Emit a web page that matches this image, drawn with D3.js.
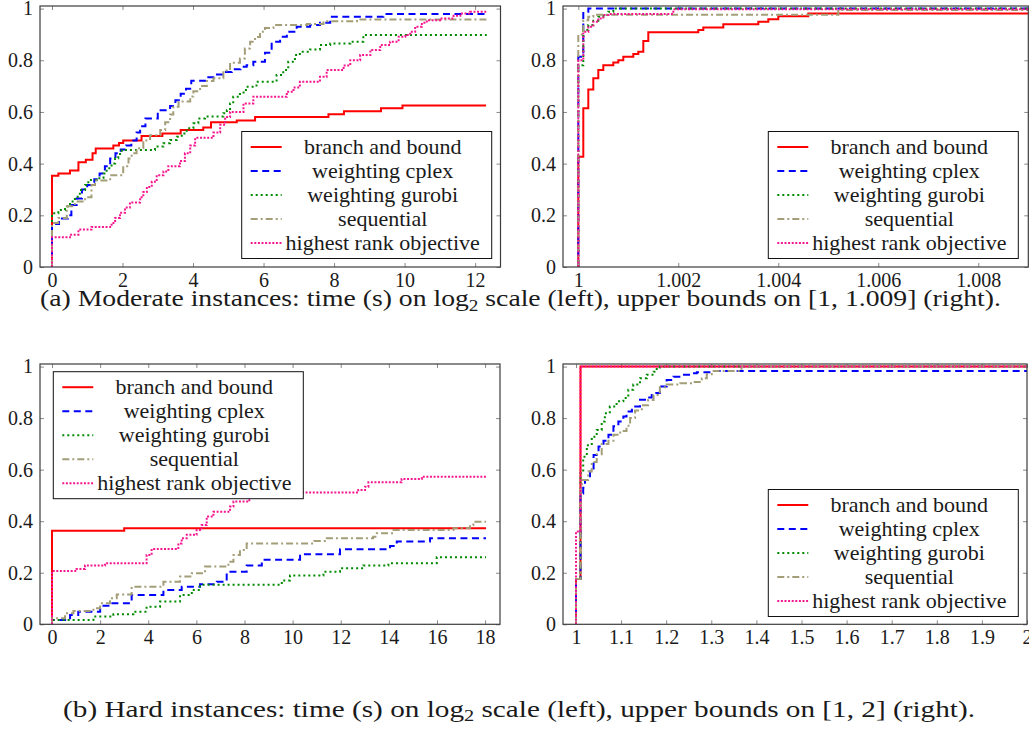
<!DOCTYPE html>
<html>
<head>
<meta charset="utf-8">
<script src="https://cdn.jsdelivr.net/npm/d3@7"></script>
<style>
body { margin: 0; background: #fff; }
.tick line { stroke: #8a8a8a; }
</style>
</head>
<body>
<svg id="fig" width="1029" height="752" font-family="Liberation Serif"></svg>
<script>
// series names, in legend order
const names = ['branch and bound', 'weighting cplex', 'weighting gurobi', 'sequential', 'highest rank objective'];

// (a) left: moderate instances, time (log2 s)
const aBranch = [[0,0],[0,0.353],[0.18,0.362],[0.51,0.373],[0.75,0.405],[0.96,0.415],[1.15,0.44],[1.24,0.459],[1.74,0.47],[1.9,0.48],[2.02,0.49],[2.54,0.507],[3.13,0.517],[3.65,0.53],[4.29,0.54],[4.51,0.56],[5.24,0.567],[5.76,0.58],[7.84,0.591],[8.28,0.603],[9.33,0.614],[9.94,0.625],[12.31,0.625]];
const aCplex = [[0,0],[0,0.166],[0.2,0.188],[0.45,0.2],[0.55,0.24],[0.7,0.265],[0.85,0.3],[1.0,0.317],[1.2,0.34],[1.35,0.362],[1.5,0.39],[1.65,0.42],[1.8,0.44],[1.95,0.455],[2.1,0.47],[2.25,0.49],[2.4,0.52],[2.5,0.545],[2.65,0.575],[3.0,0.607],[3.35,0.623],[3.5,0.645],[3.65,0.67],[3.8,0.69],[3.95,0.721],[4.4,0.734],[4.65,0.745],[4.9,0.755],[5.1,0.765],[5.35,0.775],[5.52,0.781],[5.71,0.794],[6.04,0.829],[6.23,0.872],[6.47,0.891],[6.66,0.91],[6.94,0.93],[7.32,0.936],[7.6,0.945],[7.89,0.968],[9.4,0.979],[12.33,0.979]];
const aGurobi = [[0,0],[0,0.208],[0.18,0.221],[0.37,0.234],[0.51,0.253],[0.65,0.272],[0.79,0.298],[0.94,0.317],[1.03,0.337],[1.27,0.343],[1.46,0.362],[1.55,0.382],[1.69,0.401],[1.79,0.421],[1.88,0.437],[1.98,0.453],[2.92,0.466],[3.16,0.479],[3.35,0.491],[3.54,0.504],[3.68,0.517],[3.82,0.537],[4.01,0.556],[4.15,0.575],[4.34,0.582],[4.86,0.595],[4.96,0.607],[5.05,0.633],[5.14,0.659],[5.33,0.675],[5.5,0.698],[5.8,0.717],[6.37,0.743],[6.56,0.762],[6.7,0.794],[6.89,0.82],[7.03,0.833],[7.32,0.842],[7.6,0.859],[7.89,0.865],[8.46,0.872],[8.83,0.898],[12.33,0.898]];
const aSeq = [[0,0],[0,0.17],[0.18,0.19],[0.42,0.235],[0.65,0.253],[0.94,0.27],[1.12,0.317],[1.22,0.335],[1.65,0.355],[2.02,0.39],[2.17,0.42],[2.26,0.44],[2.4,0.46],[2.59,0.49],[2.78,0.51],[3.07,0.53],[3.21,0.56],[3.35,0.59],[3.44,0.62],[3.59,0.64],[3.92,0.66],[4.01,0.68],[4.2,0.7],[4.39,0.72],[4.58,0.73],[4.86,0.76],[5.05,0.79],[5.33,0.807],[5.47,0.846],[5.62,0.872],[5.76,0.89],[5.9,0.91],[6.04,0.925],[6.28,0.936],[7.23,0.94],[7.7,0.951],[8.65,0.958],[12.33,0.958]];
const aHro = [[0,0],[0,0.115],[0.51,0.125],[0.75,0.145],[1.12,0.155],[1.69,0.17],[1.79,0.19],[1.93,0.21],[2.07,0.23],[2.21,0.25],[2.5,0.27],[2.59,0.29],[2.69,0.31],[2.83,0.33],[2.97,0.355],[3.16,0.37],[3.3,0.39],[3.63,0.41],[3.77,0.44],[3.92,0.47],[4.06,0.5],[4.58,0.52],[4.77,0.55],[4.91,0.58],[5.05,0.6],[5.43,0.633],[5.71,0.659],[6.66,0.678],[6.85,0.695],[7.03,0.717],[7.6,0.736],[7.79,0.762],[8.27,0.78],[8.46,0.8],[8.74,0.82],[9.03,0.84],[9.31,0.859],[9.59,0.872],[9.83,0.891],[10.02,0.898],[10.16,0.91],[10.3,0.93],[10.49,0.945],[10.63,0.955],[11.01,0.962],[11.39,0.972],[11.58,0.981],[11.86,0.988],[12.33,0.988]];

// (a) right: moderate instances, upper bounds
const bBranch = [[1,0],[1,0.427],[1.0001,0.614],[1.0002,0.687],[1.0003,0.73],[1.0004,0.762],[1.0005,0.781],[1.0007,0.791],[1.0008,0.8],[1.0009,0.814],[1.0011,0.824],[1.0012,0.833],[1.0013,0.875],[1.0014,0.908],[1.0024,0.917],[1.0025,0.927],[1.0029,0.939],[1.0036,0.949],[1.0038,0.959],[1.004,0.97],[1.0046,0.981],[1.009,0.981]];
const bCplex = [[1,0],[1,0.814],[1.0001,0.988],[1.0002,1],[1.009,1]];
const bGurobi = [[1,0],[1,0.781],[1.0001,0.917],[1.0002,0.936],[1.0003,0.953],[1.0004,0.968],[1.0005,0.975],[1.0006,0.988],[1.0007,1],[1.009,1]];
const bSeq = [[1,0],[1,0.9],[1.0001,0.955],[1.0002,0.968],[1.0003,0.976],[1.0052,0.995],[1.009,0.995]];
const bHro = [[1,0],[1,0.8],[1.0001,0.91],[1.0002,0.93],[1.0003,0.949],[1.0004,0.962],[1.0005,0.975],[1.0006,0.979],[1.0019,0.997],[1.009,0.997]];

// (b) left: hard instances, time (log2 s)
const cBranch = [[0,0],[0,0.363],[3,0.373],[18.04,0.373]];
const cCplex = [[0,0],[0,0.017],[0.75,0.036],[1.09,0.049],[2.0,0.072],[2.41,0.082],[3.31,0.114],[4.63,0.133],[5.39,0.146],[6.15,0.155],[6.85,0.165],[7.26,0.204],[8.09,0.228],[8.72,0.25],[10.31,0.272],[11.97,0.291],[14.05,0.304],[14.33,0.321],[15.71,0.334],[18.04,0.334]];
const cGurobi = [[0,0],[0,0.017],[1.72,0.03],[2.55,0.039],[3.38,0.049],[3.93,0.068],[4.49,0.088],[5.32,0.114],[5.81,0.133],[6.15,0.153],[9.55,0.17],[9.89,0.189],[11.28,0.204],[11.97,0.217],[12.94,0.228],[13.98,0.237],[15.99,0.26],[18.04,0.26]];
const cSeq = [[0,0],[0,0.023],[0.54,0.043],[0.89,0.052],[1.72,0.062],[2.0,0.082],[2.41,0.101],[2.69,0.116],[3.31,0.146],[4.63,0.165],[5.32,0.185],[5.81,0.198],[6.36,0.224],[7.33,0.243],[7.54,0.269],[7.81,0.288],[8.09,0.314],[10.9,0.323],[11.42,0.334],[13.35,0.34],[13.5,0.353],[14.19,0.366],[16.68,0.373],[17.37,0.385],[17.51,0.398],[18.04,0.398]];
const cHro = [[0,0],[0,0.207],[1.02,0.215],[1.37,0.228],[2.2,0.237],[3.93,0.269],[4.14,0.292],[5.25,0.314],[5.39,0.334],[5.6,0.347],[6.01,0.366],[6.22,0.385],[6.43,0.418],[6.71,0.437],[7.4,0.457],[7.54,0.476],[8.2,0.5],[8.6,0.511],[12.73,0.521],[13.01,0.534],[13.15,0.551],[14.53,0.564],[15.37,0.573],[18.04,0.573]];

// (b) right: hard instances, upper bounds
const dBranch = [[1,0],[1,0.176],[1.01,1],[2,1]];
const dCplex = [[1,0],[1,0.176],[1.01,0.508],[1.016,0.53],[1.02,0.56],[1.031,0.593],[1.039,0.657],[1.05,0.69],[1.061,0.712],[1.072,0.735],[1.083,0.768],[1.094,0.787],[1.105,0.806],[1.112,0.826],[1.124,0.845],[1.142,0.871],[1.157,0.88],[1.168,0.897],[1.186,0.923],[1.201,0.948],[1.216,0.961],[1.234,0.968],[1.253,0.974],[1.268,0.978],[1.305,0.983],[2,0.983]];
const dGurobi = [[1,0],[1,0.176],[1.01,0.586],[1.016,0.65],[1.024,0.695],[1.035,0.728],[1.046,0.754],[1.057,0.787],[1.064,0.819],[1.075,0.845],[1.09,0.865],[1.105,0.878],[1.116,0.91],[1.127,0.93],[1.142,0.955],[1.157,0.968],[1.172,0.98],[1.179,0.996],[1.186,1],[2,1]];
const dSeq = [[1,0],[1,0.176],[1.01,0.534],[1.013,0.56],[1.027,0.593],[1.035,0.63],[1.046,0.66],[1.057,0.7],[1.072,0.712],[1.083,0.735],[1.098,0.75],[1.112,0.77],[1.12,0.8],[1.131,0.83],[1.146,0.85],[1.16,0.87],[1.172,0.89],[1.186,0.92],[1.201,0.93],[1.231,0.935],[1.26,0.94],[1.279,0.955],[1.29,0.97],[1.301,0.983],[1.367,1],[2,1]];
const dHro = [[1,0],[1,0.36],[1.01,1],[2,1]];

// tick labels
const yTicks = [0, 0.2, 0.4, 0.6, 0.8, 1];
const xTicksA = [0, 2, 4, 6, 8, 10, 12];
const xTicksB = [1, 1.002, 1.004, 1.006, 1.008];
const xTicksC = [0, 2, 4, 6, 8, 10, 12, 14, 16, 18];
const xTicksD = [1, 1.1, 1.2, 1.3, 1.4, 1.5, 1.6, 1.7, 1.8, 1.9, 2];

// line styles (pgfplots look)
const colors = ['#ff0000', '#0000ff', '#008a00', '#a39e78', '#f5168f'];
const dashes = [null, '7,4.5', '2,3', '7,3,2,3', '2,1.6'];

const SERIF = 'Liberation Serif';

const svg = d3.select('#fig');

function panel(cfg) {
	const g = svg.append('g');
	const x = d3.scaleLinear().domain(cfg.xDomain).range([cfg.left, cfg.right]);
	const y = d3.scaleLinear().domain([0, 1.01]).range([cfg.bottom, cfg.top]);

	const clipId = 'clip-' + cfg.id;
	svg.append('clipPath').attr('id', clipId)
		.append('rect')
		.attr('x', cfg.left).attr('y', cfg.top - 2)
		.attr('width', cfg.right - cfg.left).attr('height', cfg.bottom - cfg.top + 2);

	const fmt = d => String(d);
	g.append('g').attr('transform', 'translate(0,' + cfg.bottom + ')')
		.call(d3.axisBottom(x).tickValues(cfg.xTicks).tickFormat(fmt).tickSize(-4).tickPadding(6));
	g.append('g').attr('transform', 'translate(0,' + cfg.top + ')')
		.call(d3.axisTop(x).tickValues(cfg.xTicks).tickFormat('').tickSize(-4));
	g.append('g').attr('transform', 'translate(' + cfg.left + ',0)')
		.call(d3.axisLeft(y).tickValues(yTicks).tickFormat(fmt).tickSize(-4).tickPadding(7));
	g.append('g').attr('transform', 'translate(' + cfg.right + ',0)')
		.call(d3.axisRight(y).tickValues(yTicks).tickFormat('').tickSize(-4));
	g.selectAll('.domain').remove();
	g.selectAll('g').attr('font-family', null).attr('font-size', null);
	g.selectAll('.tick text').attr('fill', '#1a1a1a').attr('font-family', SERIF).attr('font-size', 20);

	const line = d3.line()
		.x(d => x(d[0]))
		.y(d => y(d[1]))
		.curve(d3.curveStepAfter);

	cfg.series.forEach((s, i) => {
		g.append('path')
			.attr('d', line(s))
			.attr('clip-path', 'url(#' + clipId + ')')
			.attr('fill', 'none')
			.attr('stroke', colors[i])
			.attr('stroke-width', 2)
			.attr('stroke-dasharray', dashes[i]);
	});

	g.append('rect')
		.attr('x', cfg.left).attr('y', cfg.top)
		.attr('width', cfg.right - cfg.left).attr('height', cfg.bottom - cfg.top)
		.attr('fill', 'none').attr('stroke', '#3c3c3c').attr('stroke-width', 1.2);

	// legend box
	const lg = g.append('g').attr('transform', 'translate(' + cfg.legend[0] + ',' + cfg.legend[1] + ')');
	lg.append('rect').attr('width', 250).attr('height', 127)
		.attr('fill', '#fff').attr('stroke', '#111').attr('stroke-width', 1);
	names.forEach((n, i) => {
		const yy = 15.5 + i * 24;
		lg.append('line').attr('x1', 9).attr('x2', 40).attr('y1', yy).attr('y2', yy)
			.attr('stroke', colors[i]).attr('stroke-width', 2).attr('stroke-dasharray', dashes[i]);
		lg.append('text').attr('x', 141).attr('y', yy + 7)
			.attr('text-anchor', 'middle')
			.attr('font-family', SERIF).attr('font-size', 22)
			.attr('fill', '#1a1a1a').text(n);
	});
}

panel({ id: 'a', left: 40, right: 500.5, top: 6, bottom: 267, xDomain: [-0.34, 12.72], xTicks: xTicksA,
	series: [aBranch, aCplex, aGurobi, aSeq, aHro], legend: [241.7, 131.5] });
panel({ id: 'b', left: 563, right: 1028.3, top: 6, bottom: 267, xDomain: [0.999694, 1.009], xTicks: xTicksB,
	series: [bBranch, bCplex, bGurobi, bSeq, bHro], legend: [768.3, 131.5] });
panel({ id: 'c', left: 40, right: 500, top: 364, bottom: 624.3, xDomain: [-0.5, 18.62], xTicks: xTicksC,
	series: [cBranch, cCplex, cGurobi, cSeq, cHro], legend: [53.3, 371.7] });
panel({ id: 'd', left: 563, right: 1027, top: 364, bottom: 624.3, xDomain: [0.9712, 2], xTicks: xTicksD,
	series: [dBranch, dCplex, dGurobi, dSeq, dHro], legend: [768.3, 489.5] });

// captions: Times is narrower than Computer Modern, so widen the glyphs to the caption's width
function caption(cx, base, width, before, sub, after) {
	const t = svg.append('text').attr('x', 0).attr('y', 0)
		.attr('text-anchor', 'middle').attr('fill', '#1a1a1a')
		.attr('font-family', SERIF).attr('font-size', 23);
	t.append('tspan').text(before);
	t.append('tspan').attr('baseline-shift', '-0.3em').attr('font-size', 16).text(sub);
	t.append('tspan').text(after);
	const w = t.node().getComputedTextLength();
	t.attr('transform', 'translate(' + cx + ',' + base + ') scale(' + (width / w) + ',1)');
}
caption(520.5, 306, 961, '(a) Moderate instances: time (s) on log', '2', ' scale (left), upper bounds on [1, 1.009] (right).');
caption(519, 717, 912, '(b) Hard instances: time (s) on log', '2', ' scale (left), upper bounds on [1, 2] (right).');
</script>
</body>
</html>
